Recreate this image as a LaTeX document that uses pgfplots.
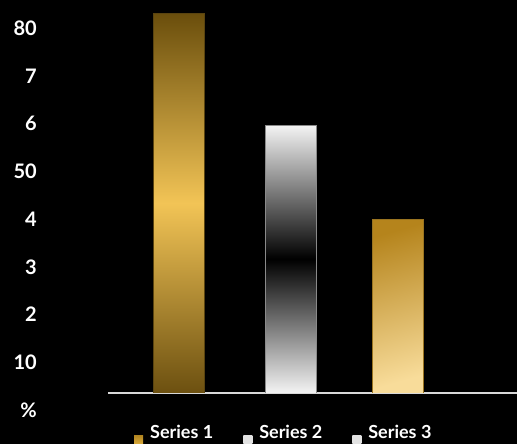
\documentclass[border=0pt]{standalone}
\usepackage{fontspec}
\setmainfont{Lato}
\usepackage{pgfplots}
\pgfplotsset{compat=1.18}
\definecolor{axisgray}{HTML}{D8D8D8}
\definecolor{bOneTop}{HTML}{6A4E0C}
\definecolor{bOneMid}{HTML}{F2C456}
\definecolor{bOneBot}{HTML}{6C5010}
\definecolor{bOneEdge}{HTML}{5A4410}
\definecolor{bTwoEnd}{HTML}{F4F4F4}
\definecolor{bTwoEdge}{HTML}{8A8A8A}
\definecolor{bThrTop}{HTML}{B5841C}
\definecolor{bThrBot}{HTML}{F8DC9A}
\definecolor{bThrEdge}{HTML}{9A7420}
\definecolor{legGoldA}{HTML}{E0B040}
\definecolor{legGoldB}{HTML}{B08420}
\definecolor{legGray}{HTML}{E2E2E2}
\begin{document}
\begin{tikzpicture}
\fill[black] (0,0) rectangle (517pt,444pt);
\useasboundingbox (0,0) rectangle (517pt,444pt);
\begin{axis}[
  at={(108pt,51pt)}, anchor=south west,
  scale only axis, width=409pt, height=393pt,
  xmin=-0.644, xmax=3.091, ymin=3.56, ymax=85.9,
  axis x line*=bottom, axis y line*=left,
  x axis line style={draw=axisgray, line width=1.6pt},
  y axis line style={draw=none},
  xtick=\empty,
  ytick={10,20,30,40,50,60,70,80},
  yticklabels={10,2,3,4,50,6,7,80},
  major tick length=0pt,
  yticklabel style={anchor=east, inner sep=0pt, xshift=-71pt, text=white,
    font=\fontsize{20}{24}\selectfont\bfseries},
  legend columns=3,
  legend style={draw=none, fill=none, text=white, inner sep=0pt,
    font=\fontsize{18}{22}\selectfont\bfseries,
    at={(0.0636,-0.075)}, anchor=north west,
    /tikz/every even column/.append style={column sep=28pt},
    /tikz/column 4/.append style={column sep=40pt}},
]
\addplot[ybar, bar width=51pt, bar shift=0pt, draw=bOneEdge,
  top color=bOneTop, bottom color=bOneBot, middle color=bOneMid,
  legend image code/.code={\path[draw=none, top color=legGoldB, bottom color=legGoldA, shading angle=0] (0pt,-13pt) rectangle (9pt,-3pt); \path[draw=none, fill=none, shade=false] (9pt,-3pt) -- (14pt,-3pt);}]
  coordinates {(0,83.1)};
\addlegendentry{Series 1}
\addplot[ybar, bar width=51pt, bar shift=0pt, draw=bTwoEdge,
  top color=bTwoEnd, bottom color=bTwoEnd, middle color=black,
  legend image code/.code={\path[draw=none, top color=legGray, bottom color=legGray, middle color=legGray, shading angle=0] (0pt,-13pt) rectangle (9pt,-3pt); \path[draw=none, fill=none, shade=false] (9pt,-3pt) -- (14pt,-3pt);}]
  coordinates {(1.023,59.7)};
\addlegendentry{Series 2}
\addplot[ybar, bar width=51pt, bar shift=0pt, draw=bThrEdge,
  top color=bThrTop, bottom color=bThrBot, shading angle=16,
  legend image code/.code={\path[draw=none, top color=legGray, bottom color=legGray, middle color=legGray, shading angle=0] (0pt,-13pt) rectangle (9pt,-3pt); \path[draw=none, fill=none, shade=false] (9pt,-3pt) -- (14pt,-3pt);}]
  coordinates {(2,40)};
\addlegendentry{Series 3}
\end{axis}
\node[anchor=east, inner sep=0pt, text=white, font=\fontsize{20}{24}\selectfont\bfseries] at (37pt,34pt) {\%};
\end{tikzpicture}
\end{document}
